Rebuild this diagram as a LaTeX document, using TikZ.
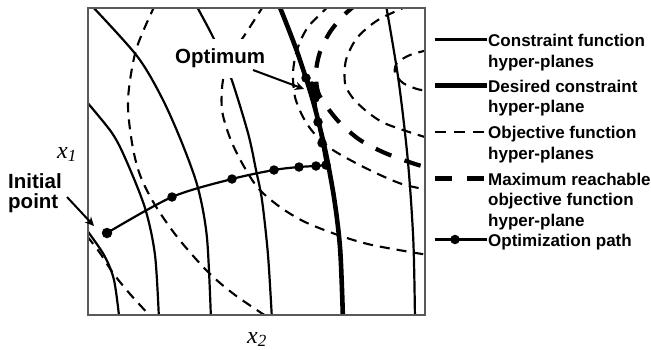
\documentclass[tikz,border=0pt]{standalone}
\usepackage{fontspec}
\setmainfont{Liberation Sans}
\newfontfamily\tms{Liberation Serif}
\usetikzlibrary{arrows.meta}
\begin{document}
\begin{tikzpicture}[x=1pt,y=-1pt,
  cons/.style={line width=2.2pt},
  desired/.style={line width=4.6pt},
  obj/.style={line width=2.1pt, dash pattern=on 10pt off 7pt},
  maxobj/.style={line width=4.2pt, dash pattern=on 17pt off 14pt},
  optpath/.style={line width=2.2pt},
  dotm/.style={circle, fill=black, inner sep=0pt, minimum size=9.5pt},
  lbl/.style={font=\fontsize{20.5}{20.5}\selectfont\bfseries, inner sep=0pt},
  leg/.style={font=\fontsize{17}{20.5}\selectfont\bfseries, inner sep=0pt, anchor=base west},
  axl/.style={font=\tms\itshape\fontsize{24}{24}\selectfont, inner sep=0pt, anchor=base west},
  arr/.style={line width=2pt, -{Stealth[length=9pt,width=8.5pt]}},
  frame/.style={draw=black!65, line width=1.6pt}
]
\useasboundingbox (0,0) rectangle (651,349);

% ---------- curves, clipped to the plot box ----------
\begin{scope}
\clip (88,8) rectangle (425,315);
% constraint function hyper-planes
\draw[cons] plot[smooth] coordinates {(86,229) (104,255) (114,280) (119.5,320)};
\draw[cons] plot[smooth] coordinates {(86,101) (112,133) (126,160) (145,208) (155,255) (159,320)};
\draw[cons] plot[smooth] coordinates {(91,5) (137,56) (162,98) (182,143) (198,188) (207,238) (211,320)};
\draw[cons] plot[smooth] coordinates {(196,5) (213,37) (230,75) (248,133) (256,170) (262,200) (268,255) (272,320)};
\draw[cons] plot[smooth] coordinates {(386,5) (398.5,80) (407.8,160) (413.3,240) (415,320)};
% desired constraint hyper-plane
\draw[desired] plot[smooth] coordinates {(279,5) (296.5,50) (312.7,100) (325.2,150) (334.4,200) (340.2,250) (343,320)};
% objective function hyper-planes
\draw[obj] plot[smooth] coordinates {(87,236) (100,253) (113,273) (130,294) (152,318)};
\draw[obj] plot[smooth] coordinates {(155,5) (136,50) (128,100) (132,143) (140,175) (155,205) (178,238) (208,272) (235,295) (272,320)};
\draw[obj] plot[smooth] coordinates {(264,5) (248,30) (232,55) (223,80) (222,110) (230,138) (242,163) (258,188) (280,207) (305,222) (338,235) (372,245) (428,255)};
\draw[obj] plot[smooth] coordinates {(330,5) (308,27) (297,50) (293,73) (295,97) (303,117) (313,132) (330,148) (352,161) (378,174) (402,184) (428,190)};
\draw[obj] plot[smooth] coordinates {(410,5) (378,20) (357,38) (346,60) (345,83) (352,97) (365,110) (382,122) (403,130) (428,138)};
\draw[obj] plot[smooth] coordinates {(428,50) (410,55) (397,63) (395,73) (403,83) (417,89) (428,91)};
% maximum reachable objective function hyper-plane
\draw[maxobj] plot[smooth] coordinates {(358,3) (344,15) (330,32) (320,52) (316,72) (318,92) (327,107) (340,123) (360,140) (385,153) (415,164) (430,168)};
\end{scope}

% ---------- plot box ----------
\draw[frame] (88,8) rectangle (425,315);

% ---------- optimization path ----------
\coordinate (p0) at (107,233);
\coordinate (p1) at (172,197);
\coordinate (p2) at (232,179);
\coordinate (p3) at (274,170);
\coordinate (p4) at (299,167);
\coordinate (p5) at (316,166);
\coordinate (p6) at (326,165);
\coordinate (p7) at (322,143);
\coordinate (p8) at (318,122);
\coordinate (p9) at (315,98);
\coordinate (p10) at (314,92);
\coordinate (p11) at (312,86);
\coordinate (p12) at (306,78);
\draw[optpath] plot[smooth, tension=0.5] coordinates {(p0) (p1) (p2) (p3) (p4) (p5) (p6)}
  -- (p7) -- (p8) -- (p9) -- (p10) -- (p11) -- (p12);
\node[dotm, minimum size=10.5pt] (d0) at (p0) {};
\node[dotm] (d1) at (p1) {};
\node[dotm] (d2) at (p2) {};
\node[dotm] (d3) at (p3) {};
\node[dotm] (d4) at (p4) {};
\node[dotm] (d5) at (p5) {};
\node[dotm] (d6) at (p6) {};
\node[dotm] (d7) at (p7) {};
\node[dotm] (d8) at (p8) {};
\node[dotm] (d9) at (p9) {};
\node[dotm] (d10) at (p10) {};
\node[dotm] (d11) at (p11) {};
\node[dotm] (d12) at (p12) {};

% ---------- labels ----------
\node[lbl, fill=white, inner xsep=3pt, inner ysep=10pt, anchor=base west] (opt) at (172,63.5) {Optimum};
\coordinate (optstart) at (253,70);
\coordinate (optend) at (304,89);
\draw[arr] (optstart) -- (optend);

\node[lbl, anchor=base west] (init1) at (8,188.5) {Initial};
\node[lbl, anchor=base west] (init2) at (8,208.5) {point};
\coordinate (initstart) at (67,197);
\coordinate (initend) at (94,226);
\draw[arr] (initstart) -- (initend);

\node[axl] (xone) at (57,158) {x\raisebox{-3pt}{\fontsize{17}{17}\selectfont 1}};
\node[axl] (xtwo) at (247,343) {x\raisebox{-3pt}{\fontsize{17}{17}\selectfont 2}};

% ---------- legend ----------
\coordinate (la1) at (435,39.5);  \coordinate (lb1) at (487,39.5);
\draw[cons] (la1) -- (lb1);
\node[leg] (lt1a) at (488,46.5) {Constraint function};
\node[leg] (lt1b) at (488,67) {hyper-planes};

\coordinate (la2) at (435,85.5);  \coordinate (lb2) at (487,85.5);
\draw[desired] (la2) -- (lb2);
\node[leg] (lt2a) at (488,92) {Desired constraint};
\node[leg] (lt2b) at (488,112.5) {hyper-plane};

\coordinate (la3) at (435,132);  \coordinate (lb3) at (487,132);
\draw[obj, dash pattern=on 11pt off 8pt] (la3) -- (lb3);
\node[leg] (lt3a) at (488,138.5) {Objective function};
\node[leg] (lt3b) at (488,159) {hyper-planes};

\coordinate (la4) at (435,178.5);  \coordinate (lb4) at (487,178.5);
\draw[maxobj, dash pattern=on 17pt off 15pt] (la4) -- (lb4);
\node[leg] (lt4a) at (488,185) {Maximum reachable};
\node[leg] (lt4b) at (488,205.5) {objective function};
\node[leg] (lt4c) at (488,226) {hyper-plane};

\coordinate (la5) at (435,239.5);  \coordinate (lb5) at (487,239.5);
\draw[optpath] (la5) -- (lb5);
\node[dotm] (ld5) at (455,239.5) {};
\node[leg] (lt5a) at (488,246.5) {Optimization path};
\end{tikzpicture}
\end{document}
